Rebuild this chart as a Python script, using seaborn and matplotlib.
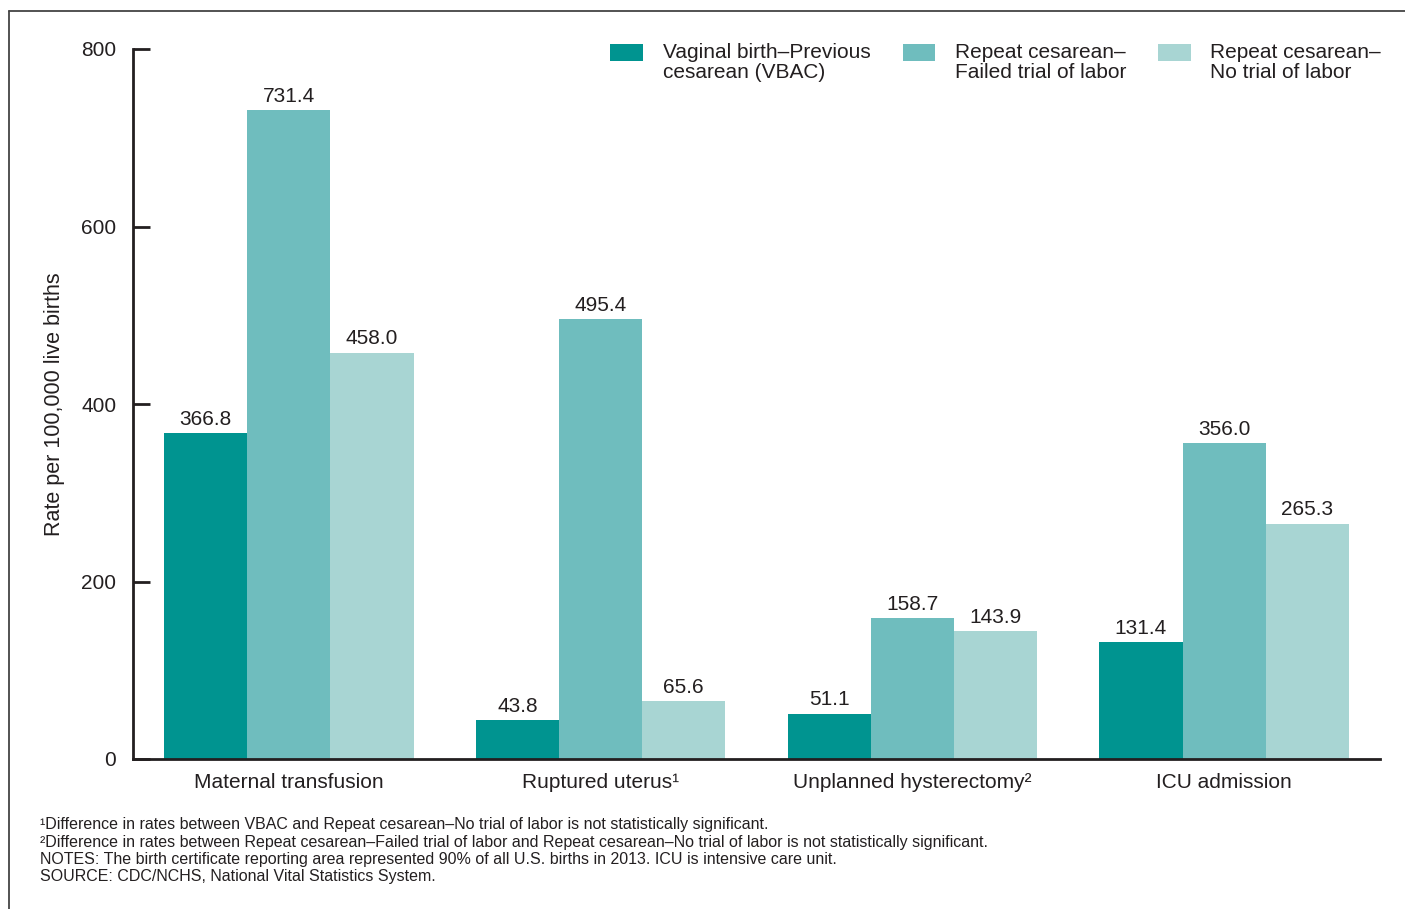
import pandas as pd
import numpy as np
import matplotlib.pyplot as plt
import seaborn as sns
from matplotlib.lines import Line2D
from matplotlib.patches import Rectangle
from matplotlib.legend_handler import HandlerPatch

# データ
categories = ['Maternal transfusion', 'Ruptured uterus\u00b9',
              'Unplanned hysterectomy\u00b2', 'ICU admission']
series = ['Vaginal birth\u2013Previous\ncesarean (VBAC)',
          'Repeat cesarean\u2013\nFailed trial of labor',
          'Repeat cesarean\u2013\nNo trial of labor']
vbac = [366.8, 43.8, 51.1, 131.4]
failed_trial = [731.4, 495.4, 158.7, 356.0]
no_trial = [458.0, 65.6, 143.9, 265.3]
colors = ['#009490', '#6fbdbe', '#a8d5d3']

footnotes = [
    '\u00b9Difference in rates between VBAC and Repeat cesarean\u2013No trial of labor is not statistically significant.',
    '\u00b2Difference in rates between Repeat cesarean\u2013Failed trial of labor and Repeat cesarean\u2013No trial of labor is not statistically significant.',
    'NOTES: The birth certificate reporting area represented 90% of all U.S. births in 2013. ICU is intensive care unit.',
    'SOURCE: CDC/NCHS, National Vital Statistics System.',
]

df = pd.DataFrame({
    'category': categories * 3,
    'series': [series[0]] * 4 + [series[1]] * 4 + [series[2]] * 4,
    'rate': vbac + failed_trial + no_trial,
})

sns.set_style('white')
plt.rcParams['font.family'] = ['Liberation Sans', 'DejaVu Sans']
text_color = '#231f20'

fig = plt.figure(figsize=(14.05, 9.09), dpi=100)
ax = fig.add_axes([133 / 1405, 1 - 759 / 909, (1380 - 133) / 1405, (759 - 49) / 909])

sns.barplot(data=df, x='category', y='rate', hue='series', palette=colors,
            saturation=1, width=0.8, ax=ax, errorbar=None, linewidth=0)

for c in ax.containers:
    ax.bar_label(c, fmt='%.1f', padding=3, fontsize=15, color=text_color)

ax.set_ylim(0, 800)
ax.set_xlim(-0.5, 3.5)
ax.set_yticks([0, 200, 400, 600, 800])
ax.set_xlabel('')
ax.set_ylabel('Rate per 100,000 live births', fontsize=15.5, color=text_color, labelpad=12)
ax.tick_params(axis='y', left=True, direction='in', length=12, width=2, labelsize=15,
               colors=text_color, pad=12)
ax.tick_params(axis='x', length=0, labelsize=15, colors=text_color, pad=10)
for s in ['top', 'right']:
    ax.spines[s].set_visible(False)
for s in ['left', 'bottom']:
    ax.spines[s].set_linewidth(2)
    ax.spines[s].set_color(text_color)


# 凡例の四角を1行目に揃える
def top_patch(legend, orig_handle, xdescent, ydescent, width, height, fontsize):
    return Rectangle((-xdescent, -ydescent + 7.5), width, height)


leg = ax.legend(ncol=3, loc='upper right', bbox_to_anchor=(1.016, 1.035), frameon=False,
                fontsize=15, handlelength=1.55, handleheight=0.85, handletextpad=0.95,
                columnspacing=1.55, labelspacing=0.2,
                handler_map={Rectangle: HandlerPatch(patch_func=top_patch)})
for t in leg.get_texts():
    t.set_color(text_color)
    t.set_linespacing(1.1)

# 脚注
y0 = 1 - 825 / 909
for i, line in enumerate(footnotes):
    fig.text(40 / 1405, y0 - i * (17.3 / 909), line, fontsize=11.5,
             color=text_color, va='center', ha='left')

# 枠線
fig.add_artist(Line2D([9 / 1405, 1.0], [1 - 11 / 909, 1 - 11 / 909],
                      transform=fig.transFigure, color='#444444', lw=1.3))
fig.add_artist(Line2D([9 / 1405, 9 / 1405], [0, 1 - 11 / 909],
                      transform=fig.transFigure, color='#444444', lw=1.3))

plt.savefig('out.png', dpi=100)
